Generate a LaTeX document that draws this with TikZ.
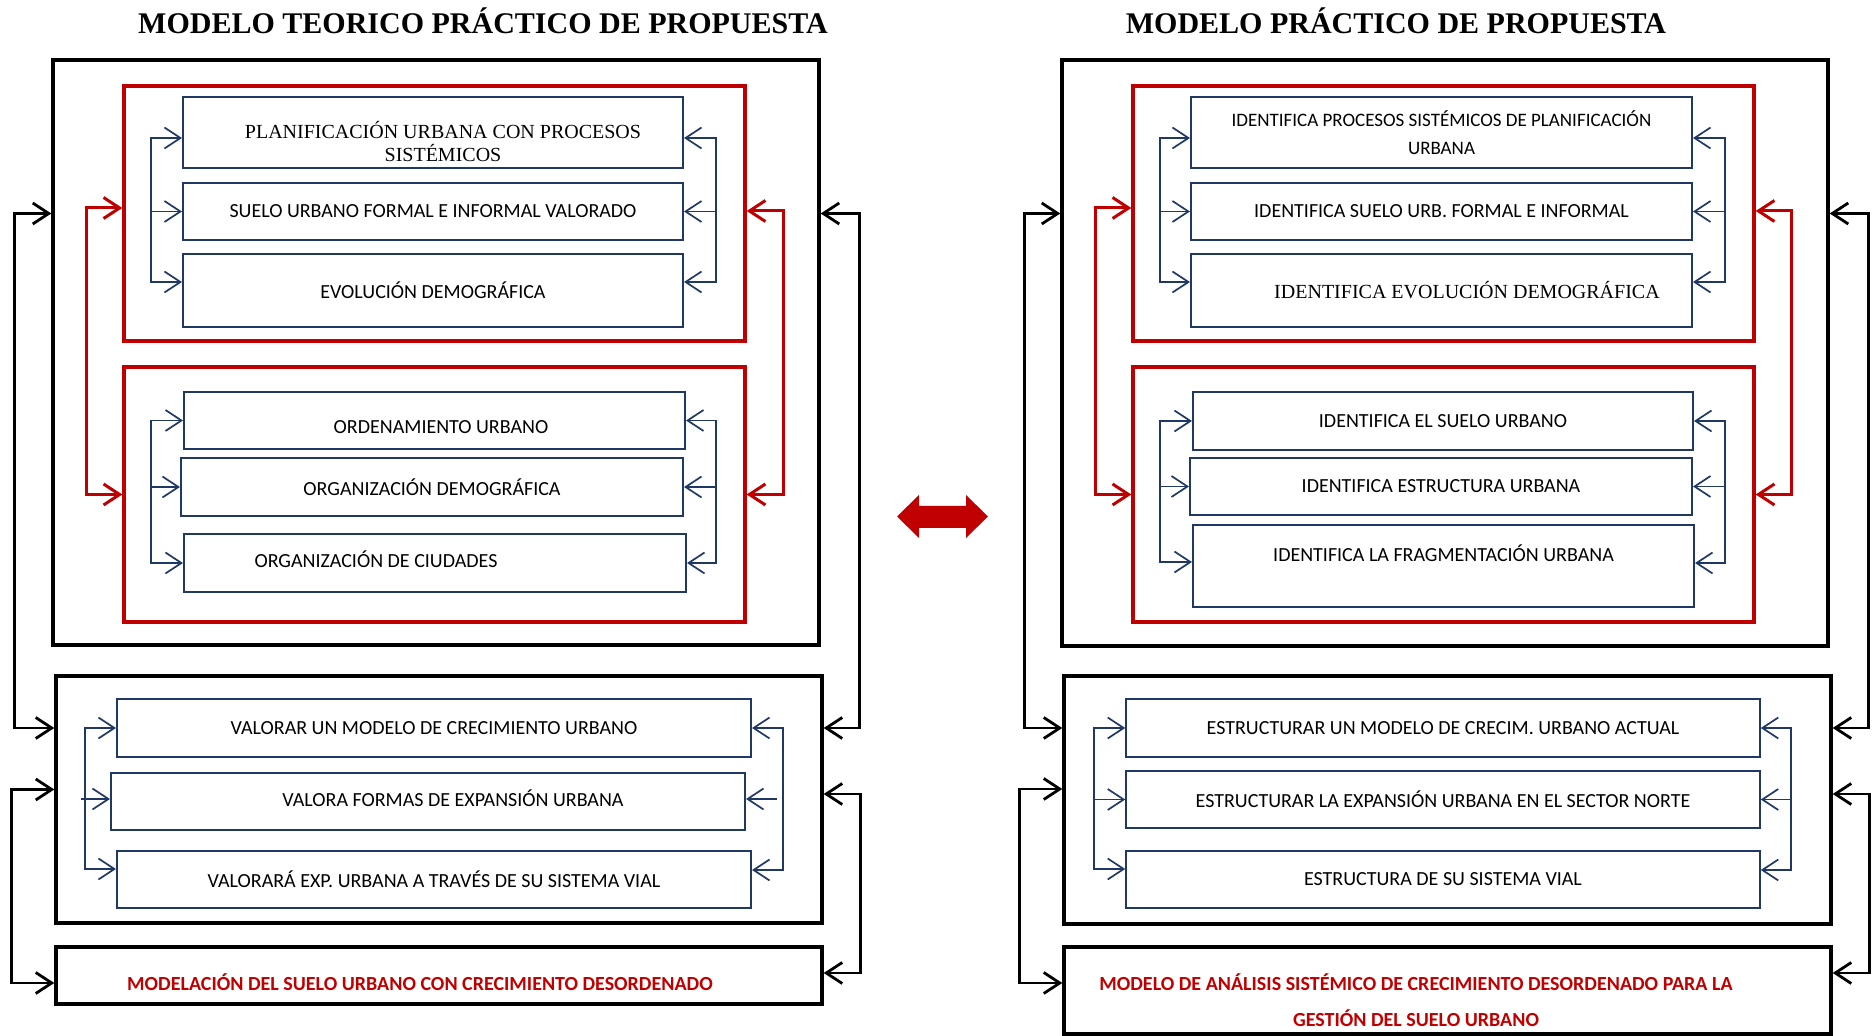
\documentclass[tikz,border=0pt]{standalone}
\usepackage{fontspec}
\usepackage{tikz}
\usetikzlibrary{arrows.meta}
\newfontfamily\carlito{Carlito}
\newfontfamily\tnr{Liberation Serif}
\definecolor{rojo}{HTML}{C00000}
\definecolor{azul}{HTML}{203864}

\tikzset{
	>={Straight Barb[length=8pt,width=10.5pt]},
	txt/.style={font=\carlito\fontsize{10}{14}\selectfont, align=center},
	serif/.style={font=\tnr\fontsize{10}{11.5}\selectfont, align=center},
	rojotxt/.style={font=\carlito\bfseries\fontsize{10}{18}\selectfont, text=rojo, align=center},
	titulo/.style={font=\tnr\bfseries\fontsize{15}{18}\selectfont},
	negro/.style={draw=black, line width=1.7pt, inner sep=0pt},
	rojobox/.style={draw=rojo, line width=1.7pt, inner sep=0pt},
	azulbox/.style={draw=azul, line width=1pt, inner sep=0pt, txt},
	conn_negro/.style={black, line width=1.4pt},
	conn_rojo/.style={rojo, line width=1.5pt},
	conn_azul/.style={azul, line width=0.85pt}
}

\begin{document}
\begin{tikzpicture}[x=0.5pt, y=-0.5pt]
	\useasboundingbox (0,0) rectangle (1876,1036);
	
	\node[titulo] (tit_teorico) at (483,21) {MODELO TEORICO PRÁCTICO DE PROPUESTA};
	\node[titulo] (tit_practico) at (1396,21) {MODELO PRÁCTICO DE PROPUESTA};
	
	% modelo teorico practico
	\node[negro, minimum width=383pt, minimum height=292.5pt] (teorico) at (436,352.5) {};
	\node[rojobox, minimum width=310.5pt, minimum height=127.5pt] (grupo_a) at (434.5,213.5) {};
	\node[rojobox, minimum width=310.5pt, minimum height=127.5pt] (grupo_b) at (434.5,494.5) {};
	
	\node[azulbox, minimum width=250pt, minimum height=35.5pt, label={[serif,shift={(5pt,-4.5pt)}]center:{PLANIFICACIÓN URBANA CON PROCESOS\\SISTÉMICOS}}] (planif) at (433,132.5) {};
	\node[azulbox, minimum width=250pt, minimum height=28.5pt] (suelo) at (433,211.5) {SUELO URBANO FORMAL E INFORMAL VALORADO};
	\node[azulbox, minimum width=250pt, minimum height=36.5pt] (evolucion) at (433,290.5) {EVOLUCIÓN DEMOGRÁFICA};
	\node[azulbox, minimum width=250.5pt, minimum height=28.5pt, label={[txt,shift={(3.25pt,-3.25pt)}]center:ORDENAMIENTO URBANO}] (ordenam) at (434.5,420.5) {};
	\node[azulbox, minimum width=251pt, minimum height=29pt] (org_demo) at (432,487) {ORGANIZACIÓN DEMOGRÁFICA};
	\node[azulbox, minimum width=251pt, minimum height=29pt, label={[txt,shift={(-29.5pt,2pt)}]center:ORGANIZACIÓN DE CIUDADES}] (org_ciud) at (435,563) {};
	
	\node[negro, minimum width=383pt, minimum height=123.5pt] (valorar) at (439,799.5) {};
	\node[azulbox, minimum width=317pt, minimum height=29pt] (val_modelo) at (434,728) {VALORAR UN MODELO DE CRECIMIENTO URBANO};
	\node[azulbox, minimum width=317pt, minimum height=28.5pt, label={[txt,shift={(12.5pt,1.75pt)}]center:VALORA FORMAS DE EXPANSIÓN URBANA}] (val_formas) at (428,801.5) {};
	\node[azulbox, minimum width=317pt, minimum height=28.5pt] (val_vial) at (434,879.5) {VALORARÁ EXP. URBANA A TRAVÉS DE SU SISTEMA VIAL};
	
	\node[negro, minimum width=383pt, minimum height=28.5pt, label={[rojotxt,shift={(-9.5pt,-3.25pt)}]center:MODELACIÓN DEL SUELO URBANO CON CRECIMIENTO DESORDENADO}] (modelacion) at (439,975.5) {};
	
	% modelo practico
	\node[negro, minimum width=383pt, minimum height=293pt] (practico) at (1445,353) {};
	\node[rojobox, minimum width=310.5pt, minimum height=127.5pt] (grupo_c) at (1443.5,213.5) {};
	\node[rojobox, minimum width=310.5pt, minimum height=127.5pt] (grupo_d) at (1443.5,494.5) {};
	
	\node[azulbox, minimum width=250.5pt, minimum height=35.5pt, font=\carlito\fontsize{9.5}{14}\selectfont] (id_procesos) at (1441.5,132.5) {IDENTIFICA PROCESOS SISTÉMICOS DE PLANIFICACIÓN\\URBANA};
	\node[azulbox, minimum width=250.5pt, minimum height=28.5pt] (id_suelo) at (1441.5,211.5) {IDENTIFICA SUELO URB. FORMAL E INFORMAL};
	\node[azulbox, minimum width=250.5pt, minimum height=36.5pt, label={[serif,xshift=12.75pt]center:IDENTIFICA EVOLUCIÓN DEMOGRÁFICA}] (id_evol) at (1441.5,290.5) {};
	\node[azulbox, minimum width=250pt, minimum height=29pt] (id_suelo_urb) at (1443,421) {IDENTIFICA EL SUELO URBANO};
	\node[azulbox, minimum width=251pt, minimum height=28.5pt] (id_estruct) at (1441,486.5) {IDENTIFICA ESTRUCTURA URBANA};
	\node[azulbox, minimum width=250.5pt, minimum height=41pt, label={[txt,yshift=6.5pt]center:IDENTIFICA LA FRAGMENTACIÓN URBANA}] (id_fragm) at (1443.5,566) {};
	
	\node[negro, minimum width=383.5pt, minimum height=124pt] (estructurar) at (1447.5,800) {};
	\node[azulbox, minimum width=316.75pt, minimum height=29pt] (est_modelo) at (1443,728) {ESTRUCTURAR UN MODELO DE CRECIM. URBANO ACTUAL};
	\node[azulbox, minimum width=316.75pt, minimum height=28.5pt] (est_expansion) at (1443,799.5) {ESTRUCTURAR LA EXPANSIÓN URBANA EN EL SECTOR NORTE};
	\node[azulbox, minimum width=316.75pt, minimum height=28.5pt] (est_vial) at (1443,879.5) {ESTRUCTURA DE SU SISTEMA VIAL};
	
	\node[negro, minimum width=383.5pt, minimum height=43.5pt, label={[rojotxt,shift={(-15.75pt,-4.75pt)}]center:{MODELO DE ANÁLISIS SISTÉMICO DE CRECIMIENTO DESORDENADO PARA LA\\GESTIÓN DEL SUELO URBANO}}] (modelo_analisis) at (1447.5,990.5) {};
	
	% flecha doble central
	\fill[rojo] (897,516.5) -- (919,495) -- (919,506) -- (966,506) -- (966,495) -- (988,516.5) -- (966,538) -- (966,528) -- (919,528) -- (919,538) -- cycle;
	
	% conectores azules
	\draw[conn_azul,<->] ([yshift=-2.75pt]planif.west) -- ++(-31,0) |- ([yshift=4.25pt]evolucion.west);
	\draw[conn_azul,->] ([xshift=-15.5pt]suelo.west) -- (suelo.west);
	\draw[conn_azul,<->] ([yshift=-2.75pt]planif.east) -- ++(32,0) |- ([yshift=4.25pt]evolucion.east);
	\draw[conn_azul,->] ([xshift=16pt]suelo.east) -- (suelo.east);
	
	\draw[conn_azul,<->] (ordenam.west) -- ++(-32,0) |- (org_ciud.west);
	\draw[conn_azul,->] ([xshift=-14.5pt]org_demo.west) -- (org_demo.west);
	\draw[conn_azul,<->] (ordenam.east) -- ++(30,0) |- (org_ciud.east);
	\draw[conn_azul,->] ([xshift=16pt]org_demo.east) -- (org_demo.east);
	
	\draw[conn_azul,<->] (val_modelo.west) -- ++(-31,0) |- ([yshift=5.25pt]val_vial.west);
	\draw[conn_azul,->] ([xshift=-14.5pt,yshift=1.25pt]val_formas.west) -- ([yshift=1.25pt]val_formas.west);
	\draw[conn_azul,<->] (val_modelo.east) -- ++(31,0) |- ([yshift=4.75pt]val_vial.east);
	\draw[conn_azul,->] ([xshift=15.5pt,yshift=1.25pt]val_formas.east) -- ([yshift=1.25pt]val_formas.east);
	
	\draw[conn_azul,<->] ([yshift=-2.75pt]id_procesos.west) -- ++(-30,0) |- ([yshift=4.25pt]id_evol.west);
	\draw[conn_azul,->] ([xshift=-15pt]id_suelo.west) -- (id_suelo.west);
	\draw[conn_azul,<->] ([yshift=-2.75pt]id_procesos.east) -- ++(32,0) |- ([yshift=4.25pt]id_evol.east);
	\draw[conn_azul,->] ([xshift=16pt]id_suelo.east) -- (id_suelo.east);
	
	\draw[conn_azul,<->] (id_suelo_urb.west) -- ++(-32,0) |- ([yshift=2pt]id_fragm.west);
	\draw[conn_azul,->] ([xshift=-14.5pt]id_estruct.west) -- (id_estruct.west);
	\draw[conn_azul,<->] (id_suelo_urb.east) -- ++(31,0) |- ([yshift=1.5pt]id_fragm.east);
	\draw[conn_azul,->] ([xshift=16pt]id_estruct.east) -- (id_estruct.east);
	
	\draw[conn_azul,<->] (est_modelo.west) -- ++(-31.5,0) |- ([yshift=5.25pt]est_vial.west);
	\draw[conn_azul,->] ([xshift=-15.75pt]est_expansion.west) -- (est_expansion.west);
	\draw[conn_azul,<->] (est_modelo.east) -- ++(30,0) |- ([yshift=4.75pt]est_vial.east);
	\draw[conn_azul,->] ([xshift=15pt]est_expansion.east) -- (est_expansion.east);
	
	% conectores rojos
	\draw[conn_rojo,<->] ([yshift=2.75pt]grupo_a.west) -- ++(-36,0) |- (grupo_b.west);
	\draw[conn_rojo,<->] ([yshift=1.25pt]grupo_a.east) -- ++(37,0) |- (grupo_b.east);
	\draw[conn_rojo,<->] ([yshift=2.75pt]grupo_c.west) -- ++(-36,0) |- (grupo_d.west);
	\draw[conn_rojo,<->] ([yshift=1.25pt]grupo_c.east) -- ++(36,0) |- (grupo_d.east);
	
	% conectores negros
	\draw[conn_negro,<->] (teorico.west |- grupo_a.west) -- ++(-37,0) |- (valorar.west |- val_modelo.west);
	\draw[conn_negro,<->] ([yshift=5pt]valorar.west) -- ++(-43,0) |- ([yshift=-3.75pt]modelacion.west);
	\draw[conn_negro,<->] (teorico.east |- grupo_a.east) -- ++(39,0) |- (valorar.east |- val_modelo.east);
	\draw[conn_negro,<->] ([yshift=2.75pt]valorar.east) -- ++(37,0) |- ([yshift=1.25pt]modelacion.east);
	
	\draw[conn_negro,<->] (practico.west |- grupo_c.west) -- ++(-36,0) |- (estructurar.west |- est_modelo.west);
	\draw[conn_negro,<->] ([yshift=5.5pt]estructurar.west) -- ++(-43,0) |- ([yshift=3.75pt]modelo_analisis.west);
	\draw[conn_negro,<->] (practico.east |- grupo_c.east) -- ++(39,0) |- (estructurar.east |- est_modelo.east);
	\draw[conn_negro,<->] ([yshift=3pt]estructurar.east) -- ++(37,0) |- ([yshift=8.75pt]modelo_analisis.east);
\end{tikzpicture}
\end{document}
